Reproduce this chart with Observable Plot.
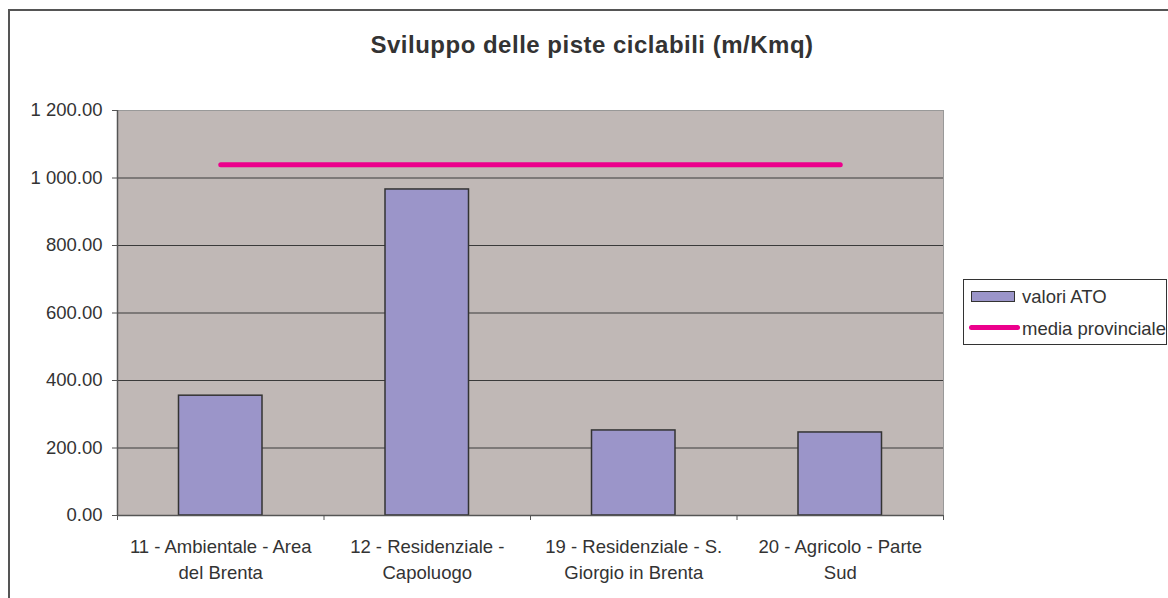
<!DOCTYPE html>
<html>
<head>
<meta charset="utf-8">
<script src="https://cdn.jsdelivr.net/npm/d3@7"></script>
<script src="https://cdn.jsdelivr.net/npm/@observablehq/plot@0.6"></script>
<style>
  html, body { margin: 0; padding: 0; background: #fff; }
  #wrap { position: relative; width: 1168px; height: 598px; overflow: hidden; font-family: "Liberation Sans", Arial, sans-serif; }
  #frame { position: absolute; left: 8px; top: 9px; width: 1300px; height: 700px; border: 2px solid #555; box-sizing: border-box; }
  #title { position: absolute; left: 0; width: 1184px; top: 31px; text-align: center; font-weight: bold; font-size: 24px; letter-spacing: 0.5px; color: #333; }
  #chart { position: absolute; left: 0; top: 0; }
  #legend { position: absolute; left: 963px; top: 279px; width: 204px; height: 66px; border: 1px solid #333; background: #fff; box-sizing: border-box; font-size: 18.5px; color: #333; white-space: nowrap; }
  .sw { position: absolute; }
  .lt { position: absolute; left: 58px; line-height: 1; }
</style>
</head>
<body>
<div id="wrap">
  <div id="frame"></div>
  <div id="title"></div>
  <div id="chart"></div>
  <div id="legend"></div>
</div>
<script>
const title = "Sviluppo delle piste ciclabili (m/Kmq)";
const categories = [
  "11 - Ambientale - Area\ndel Brenta",
  "12 - Residenziale -\nCapoluogo",
  "19 - Residenziale - S.\nGiorgio in Brenta",
  "20 - Agricolo - Parte\nSud"
];
const valoriATO = [355, 966, 252, 246];
const mediaProvinciale = [1039, 1039, 1039, 1039];
const yTicks = [0, 200, 400, 600, 800, 1000, 1200];
const seriesNames = ["valori ATO", "media provinciale"];
const barColor = "#9b95c9";
const lineColor = "#ec008c";
const plotBg = "#c0b8b6";

document.getElementById("title").textContent = title;

const rows = categories.map((c, i) => ({i, cat: c, v: valoriATO[i], m: mediaProvinciale[i]}));
const bounds = d3.range(categories.length + 1);
const fmt = v => d3.format(",.2f")(v).replace(/,/g, " ");

const chart = Plot.plot({
  width: 1168,
  height: 598,
  marginLeft: 117,
  marginRight: 225,
  marginTop: 110,
  marginBottom: 83,
  style: {fontFamily: "'Liberation Sans', Arial, sans-serif", fontSize: "18.5px", color: "#333", background: "transparent"},
  x: {domain: [0, categories.length], axis: null},
  y: {domain: [0, 1200], axis: null},
  marks: [
    Plot.frame({fill: plotBg, stroke: "#999"}),
    Plot.ruleY(yTicks.filter(t => t > 0 && t < 1200), {stroke: "#3a3a3a", strokeWidth: 1}),
    Plot.rectY(rows, {x1: d => d.i, x2: d => d.i + 1, y: "v", fill: barColor, stroke: "#333", strokeWidth: 1.5, insetLeft: 61.5, insetRight: 61.5}),
    Plot.lineY(rows, {x: d => d.i + 0.5, y: "m", stroke: lineColor, strokeWidth: 5, strokeLinecap: "round"}),
    Plot.ruleX([0], {stroke: "#555", strokeWidth: 1.5}),
    Plot.ruleY([0], {stroke: "#555", strokeWidth: 1.5}),
    Plot.axisY({ticks: yTicks, tickFormat: fmt, tickSize: 5, tickPadding: 10, fontSize: 18.5, color: "#333", stroke: "#555"}),
    Plot.axisX({ticks: bounds, tickFormat: () => "", tickSize: 5, stroke: "#555"}),
    Plot.text(rows, {x: d => d.i + 0.5, y: () => 0, text: "cat", lineAnchor: "top", dy: 19, lineHeight: 1.42, fontSize: 18.5, fill: "#333"})
  ]
});
document.getElementById("chart").appendChild(chart);

const legend = document.getElementById("legend");
legend.innerHTML = `
  <div class="sw" style="left:7px;top:11px;width:44px;height:11px;background:${barColor};border:1.5px solid #333;box-sizing:border-box;"></div>
  <div class="lt" style="top:8px;">${seriesNames[0]}</div>
  <div class="sw" style="left:5px;top:45px;width:51px;height:5px;background:${lineColor};border-radius:3px;"></div>
  <div class="lt" style="top:40px;">${seriesNames[1]}</div>
`;
</script>
</body>
</html>
